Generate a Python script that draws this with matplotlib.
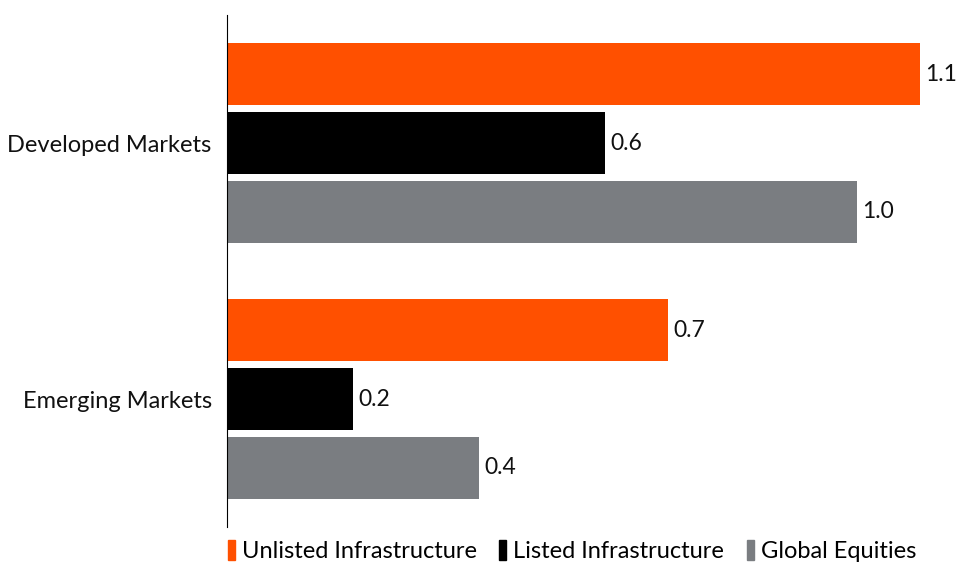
import matplotlib.pyplot as plt
import numpy as np
from matplotlib.patches import Rectangle

plt.rcParams['font.family'] = ['Lato', 'DejaVu Sans']

regions = ["Developed Markets", "Emerging Markets"]
series = ["Unlisted Infrastructure", "Listed Infrastructure", "Global Equities"]
unlisted = [1.1, 0.7]
listed = [0.6, 0.2]
equities = [1.0, 0.4]
colors = ["#FF5000", "#000000", "#7A7D81"]

fig = plt.figure(figsize=(9.58, 5.62), dpi=100)
ax = fig.add_axes([227 / 958, 35 / 562, 724 / 958, 512 / 562])

y = np.arange(len(regions))
step = 0.268
height = 0.243
for i, (vals, c) in enumerate(zip([unlisted, listed, equities], colors)):
    bars = ax.barh(y + (i - 1) * step, vals, height=height, color=c, label=series[i])
    ax.bar_label(bars, labels=[f"{v:.1f}" for v in vals], padding=4, fontsize=16.5, color="#111111")

ax.set_xlim(0, 1.15)
ax.set_ylim(1.5, -0.5)
ax.set_yticks(y)
ax.set_yticklabels(regions, fontsize=17, color="#111111")
ax.tick_params(axis='y', length=0, pad=11)
ax.set_xticks([])
for s in ["top", "right", "bottom"]:
    ax.spines[s].set_visible(False)
ax.spines["left"].set_linewidth(0.8)

# legend sits along the bottom edge, below the axis line
handles = [Rectangle((0, 0), 1, 1, color=c) for c in colors]
fig.legend(handles, series, loc="center", bbox_to_anchor=(572 / 958, 1 - 551 / 562),
           ncol=3, frameon=False, fontsize=17, handlelength=0.3, handleheight=0.9,
           handletextpad=0.3, columnspacing=0.95, borderpad=0)

fig.savefig("out.png", dpi=100)
